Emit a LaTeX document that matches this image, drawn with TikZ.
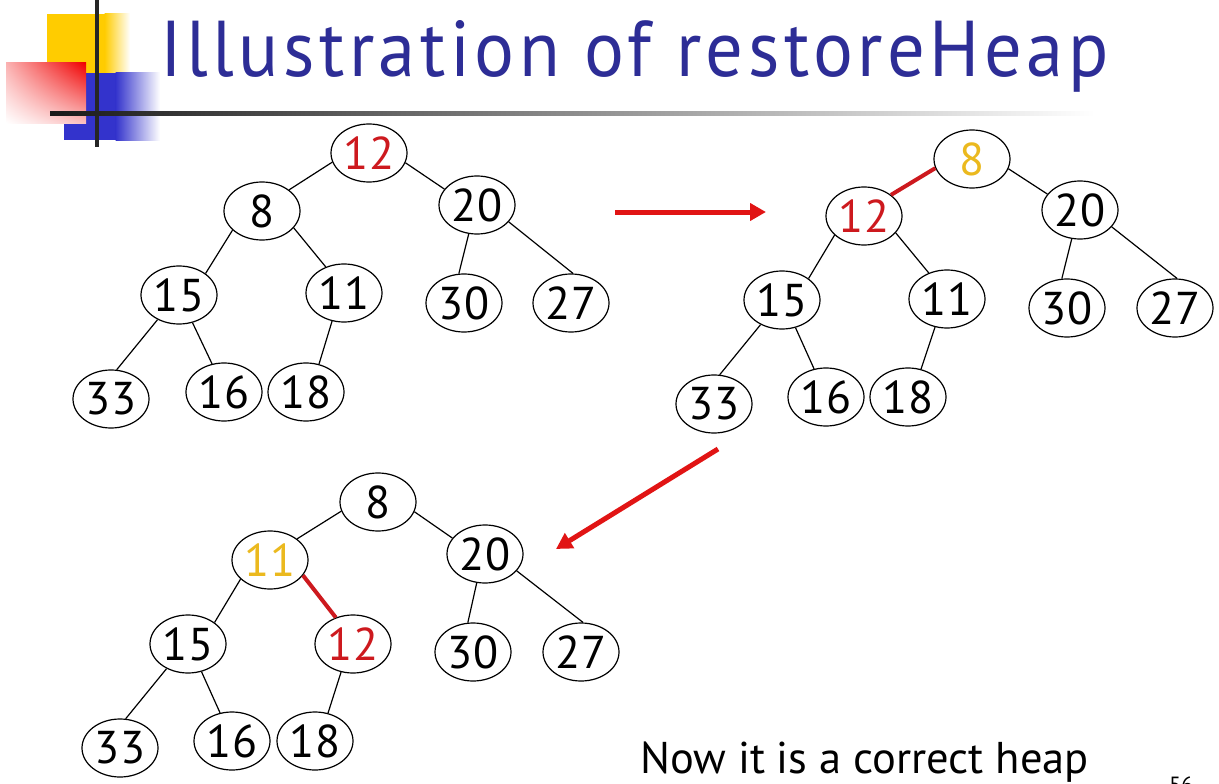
\documentclass[tikz,border=0pt]{standalone}
\usepackage{graphicx}
\usepackage{fontspec}
\setmainfont{PT Sans}
\newfontfamily\titlefont[LetterSpace=6]{PT Sans}
\usetikzlibrary{shapes.geometric,arrows.meta,shadings}
\definecolor{navy}{RGB}{45,45,150}
\definecolor{hred}{RGB}{205,25,30}
\definecolor{hyel}{RGB}{235,185,30}
\definecolor{arred}{RGB}{225,20,20}
\definecolor{logoy}{RGB}{255,204,0}
\definecolor{logob}{RGB}{51,51,204}
\definecolor{logor}{RGB}{240,0,0}
\tikzset{
  hnode/.style={ellipse, draw, line width=1.2pt, fill=white, minimum width=76pt,
    minimum height=58pt, inner sep=0pt, font=\fontsize{46}{48}\selectfont},
  redtxt/.style={text=hred},
  yeltxt/.style={text=hyel},
  edge/.style={line width=1.2pt},
  hotedge/.style={line width=4pt, draw=hred},
  bigarrow/.style={line width=5pt, draw=arred, -{Triangle[length=16pt,width=17pt]}},
  caption/.style={inner sep=0pt, font=\fontsize{44.5}{46}\selectfont}
}
\begin{document}
\begin{tikzpicture}[x=1pt, y=-1pt]
\useasboundingbox (0,0) rectangle (1219,784);
\fill[white] (0,0) rectangle (1219,784);

% logo
\fill[logoy] (47,14) rectangle (105,73);
\shade[left color=logoy, right color=white] (104.5,14) rectangle (130,73);
\fill[logob] (64,73) rectangle (116,140);
\shade[left color=logob, right color=white] (115.5,73) rectangle (160,140);
\shade[upper left=logor!30!white, upper right=logor, lower left=white, lower right=logor!25!white] (6,63) rectangle (86,123);
\draw[line width=4pt, black!85] (97,0) -- (97,147);
\shade[left color=black!90, middle color=black!55, right color=white] (50,111) rectangle (1095,115.5);

% title
\node[anchor=base west, inner sep=0pt, text=navy] (title) at (160,77)
  {\resizebox{948pt}{56pt}{\titlefont Illustration of restoreHeap}};

% tree a (top left)
\node[hnode, redtxt] (a1) at (369,153) {12};
\node[hnode] (a2) at (262,211) {8};
\node[hnode] (a3) at (477,205) {20};
\node[hnode] (a4) at (179,295) {15};
\node[hnode] (a5) at (344,293) {11};
\node[hnode] (a6) at (464,303) {30};
\node[hnode] (a7) at (571,303) {27};
\node[hnode] (a8) at (111,399) {33};
\node[hnode] (a9) at (224,392) {16};
\node[hnode] (a10) at (306,392) {18};
\draw[edge] (a1.194) -- (a2.38);
\draw[edge] (a1.345) -- (a3.154);
\draw[edge] (a2.213) -- (a4.39);
\draw[edge] (a2.332) -- (a5.125);
\draw[edge] (a3.254) -- (a6.100);
\draw[edge] (a3.332) -- (a7.86);
\draw[edge] (a4.229) -- (a8.79);
\draw[edge] (a4.296) -- (a9.113);
\draw[edge] (a5.247) -- (a10.65);

% tree b (top right)
\node[hnode, yeltxt] (b1) at (972,159) {8};
\node[hnode, redtxt] (b2) at (864,216) {12};
\node[hnode] (b3) at (1080,210) {20};
\node[hnode] (b4) at (782,300) {15};
\node[hnode] (b5) at (947,299) {11};
\node[hnode] (b6) at (1067,308) {30};
\node[hnode] (b7) at (1175,308) {27};
\node[hnode] (b8) at (714,404) {33};
\node[hnode] (b9) at (826,397) {16};
\node[hnode] (b10) at (908,397) {18};
\draw[hotedge] (b1.194) -- (b2.38);
\draw[edge] (b1.345) -- (b3.154);
\draw[edge] (b2.213) -- (b4.39);
\draw[edge] (b2.332) -- (b5.125);
\draw[edge] (b3.254) -- (b6.100);
\draw[edge] (b3.332) -- (b7.86);
\draw[edge] (b4.229) -- (b8.79);
\draw[edge] (b4.296) -- (b9.113);
\draw[edge] (b5.247) -- (b10.65);

% tree c (bottom)
\node[hnode] (c1) at (378,502) {8};
\node[hnode, yeltxt] (c2) at (270,560) {11};
\node[hnode] (c3) at (485,554) {20};
\node[hnode] (c4) at (188,644) {15};
\node[hnode, redtxt] (c5) at (353,644) {12};
\node[hnode] (c6) at (473,652) {30};
\node[hnode] (c7) at (581,652) {27};
\node[hnode] (c8) at (120,748) {33};
\node[hnode] (c9) at (232,741) {16};
\node[hnode] (c10) at (315,741) {18};
\draw[edge] (c1.194) -- (c2.38);
\draw[edge] (c1.345) -- (c3.154);
\draw[edge] (c2.213) -- (c4.39);
\draw[hotedge] (c2.335) -- (c5.123);
\draw[edge] (c3.254) -- (c6.100);
\draw[edge] (c3.332) -- (c7.86);
\draw[edge] (c4.229) -- (c8.79);
\draw[edge] (c4.296) -- (c9.113);
\draw[edge] (c5.247) -- (c10.65);

% step arrows
\coordinate (s1) at (615,212);
\coordinate (e1) at (766,212);
\coordinate (s2) at (718,449);
\coordinate (e2) at (556,549);
\draw[bigarrow] (s1) -- (e1);
\draw[bigarrow] (s2) -- (e2);

% caption and page number
\node[caption, anchor=base west] (cap) at (640,773) {Now it is a correct heap};
\node[inner sep=0pt, anchor=north, font=\fontsize{22}{24}\selectfont] (pg) at (1181,777) {56};
\end{tikzpicture}
\end{document}
